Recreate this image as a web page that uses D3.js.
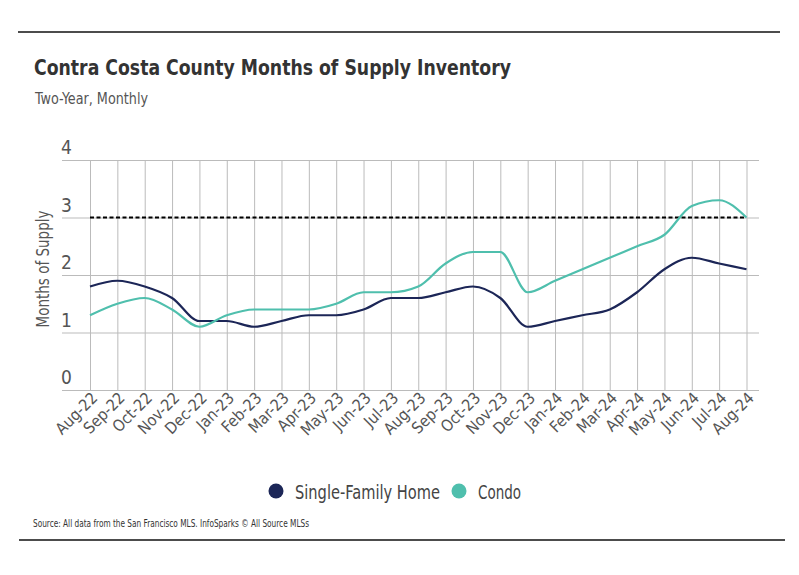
<!DOCTYPE html>
<html><head><meta charset="utf-8">
<script src="https://cdn.jsdelivr.net/npm/d3@7"></script>
<style>
body{margin:0;background:#fff;}
svg{display:block;}
text{font-family:"DejaVu Sans Condensed","Open Sans",sans-serif;}
</style></head>
<body><svg id="c" width="799" height="575"></svg>
<script>
const months = ["Aug-22","Sep-22","Oct-22","Nov-22","Dec-22","Jan-23","Feb-23","Mar-23","Apr-23","May-23","Jun-23","Jul-23","Aug-23","Sep-23","Oct-23","Nov-23","Dec-23","Jan-24","Feb-24","Mar-24","Apr-24","May-24","Jun-24","Jul-24","Aug-24"];
const singleFamily = [1.8,1.9,1.8,1.6,1.2,1.2,1.1,1.2,1.3,1.3,1.4,1.6,1.6,1.7,1.8,1.6,1.1,1.2,1.3,1.4,1.7,2.1,2.3,2.2,2.1];
const condo = [1.3,1.5,1.6,1.4,1.1,1.3,1.4,1.4,1.4,1.5,1.7,1.7,1.8,2.2,2.4,2.4,1.7,1.9,2.1,2.3,2.5,2.7,3.2,3.3,3.0];
const yTicks = [0,1,2,3,4];
const threshold = 3;
const seriesNames = ["Single-Family Home","Condo"];
const colors = ["#1c2657","#4fbfad"];

const svg = d3.select("#c");
const x = d3.scalePoint().domain(months).range([90,746.5]);
const y = d3.scaleLinear().domain([0,4]).range([390,160]);

// rules
svg.append("line").attr("x1",18).attr("x2",780).attr("y1",32).attr("y2",32).attr("stroke","#111").attr("stroke-width",1.5);
svg.append("line").attr("x1",19).attr("x2",785).attr("y1",540).attr("y2",540).attr("stroke","#111").attr("stroke-width",1.5);

// titles
svg.append("text").attr("x",34).attr("y",75).attr("font-size",21).attr("font-weight","bold").attr("fill","#333")
  .attr("textLength",477).attr("lengthAdjust","spacingAndGlyphs")
  .text("Contra Costa County Months of Supply Inventory");
svg.append("text").attr("x",35).attr("y",104).attr("font-size",16).attr("fill","#555")
  .attr("textLength",113).attr("lengthAdjust","spacingAndGlyphs").text("Two-Year, Monthly");

// horizontal grid
const gy = svg.append("g").attr("transform","translate(62,0)")
  .call(d3.axisLeft(y).tickValues(yTicks).tickSize(-697).tickFormat(""));
gy.select(".domain").remove();
gy.selectAll(".tick line").attr("stroke","#bbb");

// vertical grid
const gx = svg.append("g").attr("transform","translate(0,390)")
  .call(d3.axisBottom(x).tickSize(-230).tickFormat(""));
gx.select(".domain").remove();
gx.selectAll(".tick line").attr("stroke","#bbb");

// y tick labels above gridlines
svg.append("g").selectAll("text").data(yTicks).join("text")
  .attr("x",61).attr("y",d=>y(d)-6).attr("font-size",19).attr("fill","#555").text(d=>d);

// x labels
const xl = svg.append("g").attr("transform","translate(0,390)")
  .call(d3.axisBottom(x).tickSize(0).tickPadding(0));
xl.select(".domain").remove();
xl.selectAll("text").attr("font-size",16).attr("fill","#555")
  .attr("text-anchor","end").attr("dy",null).attr("y",0)
  .attr("transform","translate(8,9) rotate(-45)");

// y axis title
svg.append("text").attr("transform","translate(48.5,269) rotate(-90)").attr("text-anchor","middle")
  .attr("font-size",18).attr("fill","#555")
  .attr("textLength",117).attr("lengthAdjust","spacingAndGlyphs").text("Months of Supply");

// threshold
svg.append("line").attr("x1",x(months[0])).attr("x2",x(months[months.length-1]))
  .attr("y1",y(threshold)).attr("y2",y(threshold)).attr("stroke","#000").attr("stroke-width",2).attr("stroke-dasharray","4,2.5");

// lines
const line = d3.line().x((d,i)=>x(months[i])).y(d=>y(d)).curve(d3.curveMonotoneX);
[singleFamily, condo].forEach((s,i)=>{
  svg.append("path").attr("d",line(s)).attr("fill","none").attr("stroke",colors[i]).attr("stroke-width",2.2);
});

// legend
const leg = svg.append("g");
const legX = [276,459];
const legW = [145,43];
seriesNames.forEach((n,i)=>{
  leg.append("circle").attr("cx",legX[i]).attr("cy",491).attr("r",7.5).attr("fill",colors[i]);
  leg.append("text").attr("x",legX[i]+19).attr("y",498.5).attr("font-size",20).attr("fill","#444")
    .attr("textLength",legW[i]).attr("lengthAdjust","spacingAndGlyphs").text(n);
});

// source
svg.append("text").attr("x",33).attr("y",527).attr("font-size",10).attr("fill","#333")
  .attr("textLength",276).attr("lengthAdjust","spacingAndGlyphs")
  .text("Source:  All data from the San Francisco MLS. InfoSparks © All Source MLSs");
</script></body></html>
